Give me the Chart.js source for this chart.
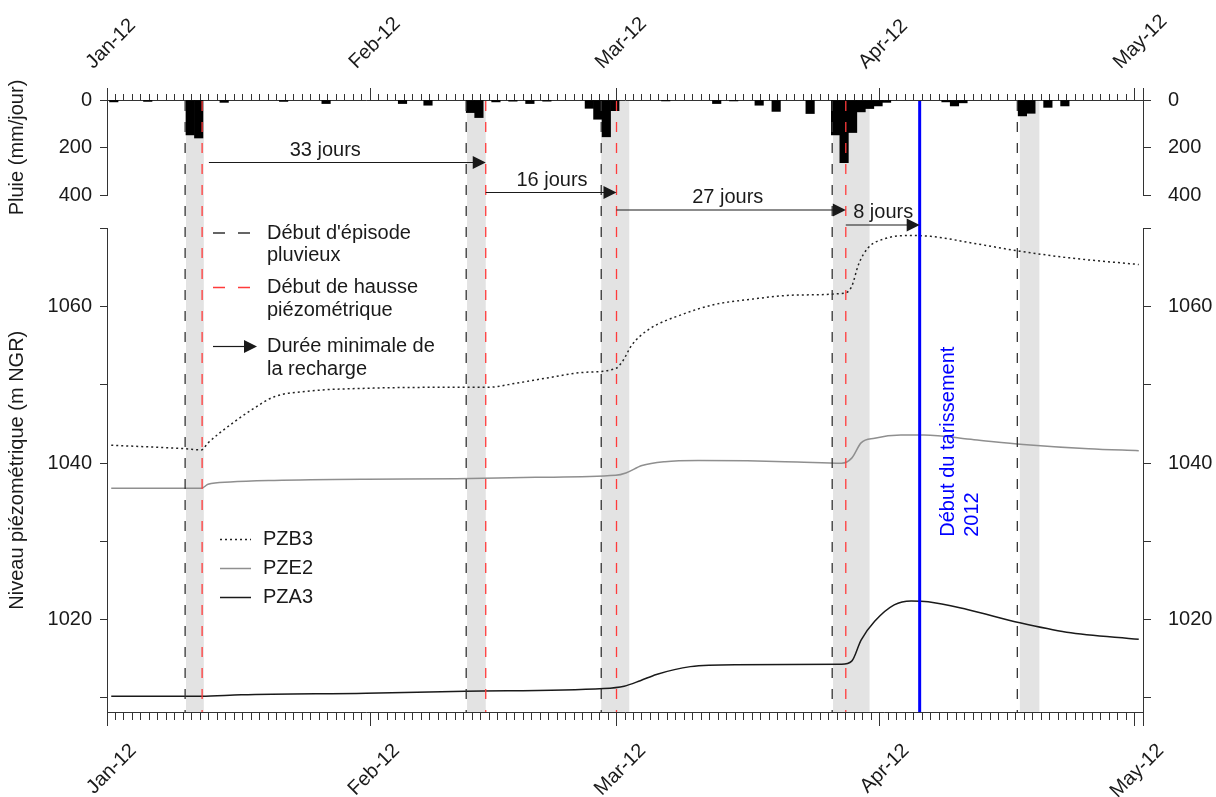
<!DOCTYPE html>
<html>
<head>
<meta charset="utf-8">
<script src="https://cdn.jsdelivr.net/npm/chart.js@4.4.1/dist/chart.umd.min.js"></script>
<style>
  html, body { margin: 0; padding: 0; background: #fff; }
  #wrap { width: 1216px; height: 797px; }
</style>
</head>
<body>
<div id="wrap"><canvas id="chart" width="1216" height="797"></canvas></div>
<script>
// Temps : jours depuis le 1er janvier 2012
const monthDays = [0, 31, 60, 91, 121];
const monthLabels = ['Jan-12', 'Feb-12', 'Mar-12', 'Apr-12', 'May-12'];
const dayTicks = Array.from({length: 122}, (_, i) => i);

// Pluie journaliere (mm/jour)
const rainDays = [0, 4, 9, 10, 13, 20, 25, 34, 37, 42, 43, 45, 47, 49, 51, 56, 57, 58, 59, 65, 71, 73, 76, 78, 82, 85, 86, 87, 88, 89, 90, 91, 98, 99, 100, 107, 108, 110, 112];
const rainMm = [8, 6, 147, 160, 10, 6, 15, 15, 22, 53, 74, 8, 5, 15, 5, 35, 81, 155, 45, 4, 15, 4, 22, 48, 57, 147, 264, 137, 50, 36, 25, 10, 8, 25, 12, 67, 56, 31, 25];
const rainTicks = [0, 100, 200, 300, 400];

// Niveaux piezometriques (m NGR)
const pzb3Days = [0, 8.7, 10.6, 11.4, 14.5, 16.5, 19.2, 23.1, 30.9, 40.6, 44.3, 47.8, 51.6, 55.5, 59.4, 60.2, 61.3, 63.3, 67.2, 71.1, 74.9, 80.8, 86.4, 87.2, 88, 89.1, 91.1, 93.8, 96.5, 101.6, 107, 113.2, 121];
const pzb3Level = [1042.3, 1041.85, 1041.7, 1042.6, 1045.3, 1046.8, 1048.5, 1049.2, 1049.6, 1049.7, 1049.7, 1050.25, 1050.95, 1051.6, 1052.1, 1053.0, 1055.1, 1057.1, 1059.0, 1060.3, 1060.9, 1061.5, 1061.75, 1062.6, 1065.4, 1067.5, 1068.7, 1069.1, 1069.0, 1068.1, 1067.1, 1066.2, 1065.4];
const pze2Days = [0, 10.6, 11.4, 14, 19.2, 30, 40.6, 50, 59.4, 60.6, 62.5, 65.2, 69.1, 74.9, 80.8, 86, 87.2, 88.3, 89.9, 93, 95.7, 101.6, 107.4, 115.1, 121];
const pze2Level = [1036.8, 1036.8, 1037.3, 1037.6, 1037.8, 1037.95, 1038.0, 1038.2, 1038.45, 1038.75, 1039.7, 1040.2, 1040.35, 1040.3, 1040.15, 1040.0, 1040.65, 1042.6, 1043.2, 1043.6, 1043.6, 1043.0, 1042.4, 1041.85, 1041.6];
const pza3Days = [0, 10.6, 15.3, 30, 41.7, 58, 60.4, 62.3, 64.2, 68.2, 73.5, 86, 87.2, 88.3, 89.9, 92.2, 94.2, 96.2, 100.8, 107, 112.5, 121];
const pza3Level = [1010.2, 1010.2, 1010.4, 1010.6, 1010.85, 1011.2, 1011.5, 1012.2, 1013.0, 1014.0, 1014.25, 1014.3, 1014.7, 1017.4, 1019.8, 1021.9, 1022.4, 1022.3, 1021.3, 1019.6, 1018.4, 1017.5];
const levelTicks = [1010, 1020, 1030, 1040, 1050, 1060, 1070];

// Episodes
const rainStartDays = [8.7, 41.8, 57.7, 84.9, 106.7];
const riseStartDays = [10.7, 44.1, 59.5, 86.5];
const bandFrom = [8.8, 41.9, 57.7, 85.0, 107.0];
const bandTo = [10.9, 44.1, 61.0, 89.3, 109.3];
const tarissementDay = 95.2;
const rechargeFrom = [11.5, 44.1, 59.5, 86.5];
const rechargeTo = [44.1, 59.5, 86.5, 95.2];
const rechargeLabels = ['33 jours', '16 jours', '27 jours', '8 jours'];
const rechargeLabelDays = [25.2, 51.9, 72.6, 90.9];

// Mise en page
const FONT_FAMILY = '"Liberation Sans", Arial, sans-serif';
const FONT = '20px ' + FONT_FAMILY;
const INK = '#1a1a1a';
const AXIS = '#333';
const RAIN_SHIFT = 0.3;
const arrowRows = [62.5, 92.5, 110, 125];
const tarissementText = ['Début du tarissement', '2012'];
const tarissementTextLevel = 1030.6;

Chart.defaults.font.family = FONT_FAMILY;
Chart.defaults.font.size = 20;
Chart.defaults.color = INK;

const isMonth = v => monthDays.indexOf(v) >= 0;
const pts = (days, vals, shift = 0) => days.map((d, i) => ({x: d + shift, y: vals[i]}));

function drawArrow(ctx, x0, x1, y) {
  ctx.beginPath();
  ctx.moveTo(x0, y);
  ctx.lineTo(x1 - 12, y);
  ctx.stroke();
  ctx.beginPath();
  ctx.moveTo(x1 - 13, y - 6.5);
  ctx.lineTo(x1, y);
  ctx.lineTo(x1 - 13, y + 6.5);
  ctx.closePath();
  ctx.fill();
}

const overlay = {
  id: 'overlay',
  beforeDatasetsDraw(chart) {
    const {ctx, chartArea: a, scales: {x}} = chart;
    ctx.save();
    ctx.fillStyle = '#e3e3e3';
    bandFrom.forEach((d, i) => {
      const x0 = x.getPixelForValue(d);
      const x1 = x.getPixelForValue(bandTo[i]);
      ctx.fillRect(x0, a.top + 1, x1 - x0, a.bottom - a.top - 1);
    });
    ctx.restore();
  },
  afterDatasetsDraw(chart) {
    const {ctx, chartArea: a, scales} = chart;
    const x = scales.x;
    ctx.save();

    const vline = (d, color, dash, width) => {
      const px = x.getPixelForValue(d);
      ctx.beginPath();
      ctx.strokeStyle = color;
      ctx.lineWidth = width;
      ctx.setLineDash(dash);
      ctx.moveTo(px, a.top + 1);
      ctx.lineTo(px, a.bottom);
      ctx.stroke();
    };
    rainStartDays.forEach(d => vline(d, '#333', [10, 11], 1.3));
    riseStartDays.forEach(d => vline(d, '#ff3b3b', [10, 11], 1.3));
    vline(tarissementDay, '#0000ff', [], 3);
    ctx.setLineDash([]);

    // fleches de recharge
    ctx.font = FONT;
    ctx.fillStyle = INK;
    ctx.strokeStyle = INK;
    ctx.lineWidth = 1.2;
    ctx.textAlign = 'center';
    ctx.textBaseline = 'alphabetic';
    rechargeFrom.forEach((d, i) => {
      const y = a.top + arrowRows[i];
      drawArrow(ctx, x.getPixelForValue(d), x.getPixelForValue(rechargeTo[i]), y);
      ctx.fillText(rechargeLabels[i], x.getPixelForValue(rechargeLabelDays[i]), y - 7);
    });

    // texte du tarissement
    ctx.save();
    ctx.translate(x.getPixelForValue(tarissementDay), scales.yMain.getPixelForValue(tarissementTextLevel));
    ctx.rotate(-Math.PI / 2);
    ctx.fillStyle = '#0000ff';
    ctx.textAlign = 'left';
    ctx.textBaseline = 'middle';
    tarissementText.forEach((t, i) => ctx.fillText(t, 0, 29 + i * 24));
    ctx.restore();

    // legende des evenements
    const kx = a.left + 106, tx = a.left + 160;
    ctx.textAlign = 'left';
    ctx.textBaseline = 'middle';
    const keyRows = [
      {y: 133, lines: ["Début d'épisode", 'pluvieux'], color: '#333', kind: 'dash'},
      {y: 187.5, lines: ['Début de hausse', 'piézométrique'], color: '#ff3b3b', kind: 'dash'},
      {y: 246.5, lines: ['Durée minimale de', 'la recharge'], color: INK, kind: 'arrow'}
    ];
    keyRows.forEach(r => {
      const y = a.top + r.y;
      ctx.strokeStyle = r.color;
      ctx.fillStyle = r.color;
      if (r.kind === 'dash') {
        ctx.lineWidth = 1.3;
        ctx.beginPath();
        ctx.moveTo(kx, y); ctx.lineTo(kx + 12, y);
        ctx.moveTo(kx + 25, y); ctx.lineTo(kx + 37, y);
        ctx.stroke();
      } else {
        ctx.lineWidth = 1.2;
        drawArrow(ctx, kx, kx + 44, y);
      }
      ctx.fillStyle = INK;
      r.lines.forEach((t, i) => ctx.fillText(t, tx, y + i * 22.5));
    });

    // legende des piezometres
    chart.data.datasets.forEach((ds, i) => {
      if (ds.type !== 'line') return;
      const y = a.top + 439.5 + (i - 1) * 29;
      ctx.strokeStyle = ds.borderColor;
      ctx.lineWidth = ds.borderWidth;
      ctx.setLineDash(ds.borderDash || []);
      ctx.beginPath();
      ctx.moveTo(a.left + 113, y);
      ctx.lineTo(a.left + 144, y);
      ctx.stroke();
      ctx.setLineDash([]);
      ctx.fillStyle = INK;
      ctx.fillText(ds.label, a.left + 156, y);
    });
    ctx.restore();
  }
};

const hidden = {display: false};
const yAxis = (side, stackWeight, weight, extra) => Object.assign({
  type: 'linear',
  position: side,
  stack: side,
  stackWeight,
  weight,
  afterFit: s => { s.width = side === 'left' ? 107 : 73; },
  border: {color: AXIS, width: 1},
  grid: {drawOnChartArea: false, tickLength: side === 'left' ? 7 : 8, tickColor: AXIS}
}, extra);

const rainAxis = side => ({
  min: 0, max: 400, reverse: true,
  afterBuildTicks: s => { s.ticks = rainTicks.map(v => ({value: v})); },
  ticks: {padding: side === 'left' ? 8 : 17, callback: v => (v % 200 === 0 ? v : '')}
});
const levelAxis = side => ({
  min: 1008.2, max: 1070,
  afterBuildTicks: s => { s.ticks = levelTicks.map(v => ({value: v})); },
  ticks: {padding: side === 'left' ? 8 : 17, callback: v => (v % 20 === 0 ? v : '')}
});
const gapAxis = {min: 0, max: 1, border: hidden, grid: {display: false, drawTicks: false}, ticks: hidden};

new Chart(document.getElementById('chart'), {
  type: 'bar',
  data: {
    datasets: [
      {
        type: 'bar', label: 'Pluie', xAxisID: 'x', yAxisID: 'yRain',
        data: pts(rainDays, rainMm, RAIN_SHIFT),
        backgroundColor: '#000', borderWidth: 0,
        barPercentage: 1, categoryPercentage: 1
      },
      {
        type: 'line', label: 'PZB3', xAxisID: 'x', yAxisID: 'yMain',
        data: pts(pzb3Days, pzb3Level),
        borderColor: '#222', borderWidth: 1.5, borderDash: [2, 3],
        pointRadius: 0, cubicInterpolationMode: 'monotone'
      },
      {
        type: 'line', label: 'PZE2', xAxisID: 'x', yAxisID: 'yMain',
        data: pts(pze2Days, pze2Level),
        borderColor: '#8f8f8f', borderWidth: 1.5,
        pointRadius: 0, cubicInterpolationMode: 'monotone'
      },
      {
        type: 'line', label: 'PZA3', xAxisID: 'x', yAxisID: 'yMain',
        data: pts(pza3Days, pza3Level),
        borderColor: '#1a1a1a', borderWidth: 1.5,
        pointRadius: 0, cubicInterpolationMode: 'monotone'
      }
    ]
  },
  options: {
    responsive: false,
    animation: false,
    events: [],
    layout: {padding: 0},
    plugins: {legend: {display: false}, tooltip: {enabled: false}},
    scales: {
      x: {
        type: 'linear', position: 'bottom', min: 0, max: 121,
        afterBuildTicks: s => { s.ticks = dayTicks.map(v => ({value: v})); },
        afterFit: s => { s.height = 85; },
        border: {color: AXIS, width: 1},
        grid: {
          drawOnChartArea: false, tickLength: 14, tickColor: AXIS,
          tickBorderDash: c => (c.tick && !isMonth(c.tick.value) ? [7, 30] : [])
        },
        ticks: {
          autoSkip: false, minRotation: 45, maxRotation: 45, labelOffset: 22, padding: 13,
          callback: v => monthLabels[monthDays.indexOf(v)] || ''
        }
      },
      x2: {
        type: 'linear', position: 'top', min: 0, max: 121,
        afterBuildTicks: s => { s.ticks = dayTicks.map(v => ({value: v})); },
        afterFit: s => { s.height = 100; },
        border: {color: AXIS, width: 1},
        grid: {
          drawOnChartArea: false, tickLength: 12, tickColor: AXIS,
          tickBorderDash: c => (c.tick && !isMonth(c.tick.value) ? [6, 6] : []),
          tickBorderDashOffset: c => (c.tick && !isMonth(c.tick.value) ? 6 : 0)
        },
        ticks: {
          autoSkip: false, minRotation: 45, maxRotation: 45, labelOffset: -5, padding: 14,
          callback: v => monthLabels[monthDays.indexOf(v)] || ''
        }
      },
      yMain: yAxis('left', 483.5, 1, Object.assign(levelAxis('left'), {
        title: {display: true, text: 'Niveau piézométrique (m NGR)', padding: {top: 5, bottom: 0}}
      })),
      yGap: yAxis('left', 33.5, 2, gapAxis),
      yRain: yAxis('left', 95, 3, Object.assign(rainAxis('left'), {
        title: {display: true, text: 'Pluie (mm/jour)', padding: {top: 5, bottom: 0}}
      })),
      yRainR: yAxis('right', 95, 1, rainAxis('right')),
      yGapR: yAxis('right', 33.5, 2, gapAxis),
      yMainR: yAxis('right', 483.5, 3, levelAxis('right'))
    }
  },
  plugins: [overlay]
});
</script>
</body>
</html>
